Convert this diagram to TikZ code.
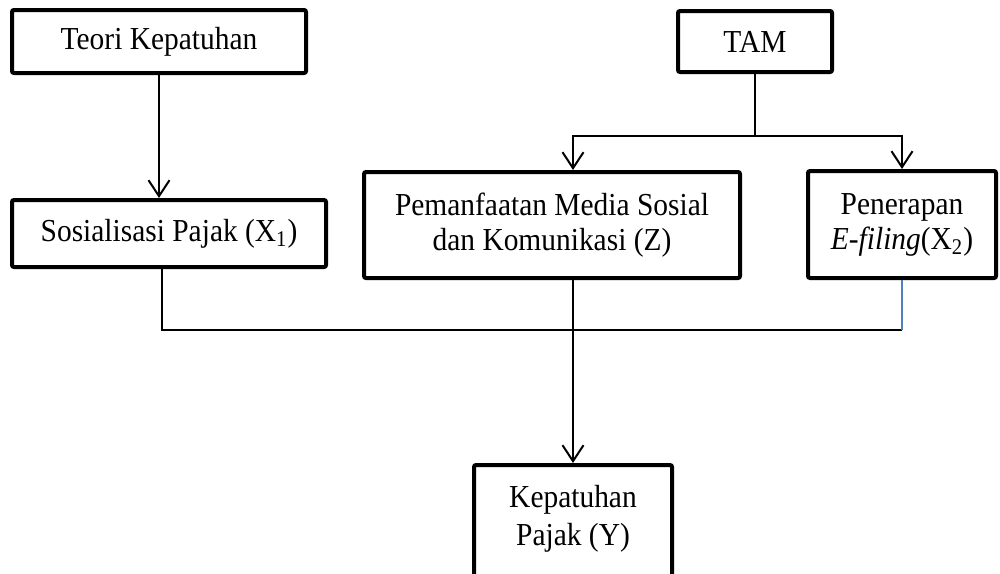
\documentclass[tikz,border=0pt]{standalone}
\usepackage{fontspec}
\setmainfont[FakeStretch=0.92]{Liberation Serif}
\definecolor{linkblue}{HTML}{4F81BD}
\usetikzlibrary{arrows.meta, positioning}

\begin{document}
\begin{tikzpicture}[x=0.5pt, y=-0.5pt,
    box/.style={draw, line width=2pt, rounded corners=1pt, align=center,
      inner sep=0pt, font=\fontsize{16}{17.5}\selectfont},
    link/.style={line width=1pt},
    arr/.style={link, -{Straight Barb[length=8pt, width=10.5pt, line width=1pt]}}]
  \clip (0,0) rectangle (1000,573);

  % upper row
  \node[box, minimum width=147pt, minimum height=31.5pt] (teori) at (159,41.5) {Teori Kepatuhan};
  \node[box, minimum width=77pt, minimum height=30.5pt] (tam) at (755,41.5) {TAM};

  % middle row
  \node[box, minimum width=157pt, minimum height=33.5pt] (sos) at (169,233.5) {Sosialisasi Pajak (X\textsubscript{1})};
  \node[box, minimum width=188pt, minimum height=53pt] (pem) at (552,225) {Pemanfaatan Media Sosial\\dan Komunikasi (Z)};
  \node[box, minimum width=94pt, minimum height=53.5pt] (pen) at (902,224.5) {Penerapan\\\textit{E-filing}(X\textsubscript{2})};

  % bottom box, its lower edge runs off the page
  \node[box, minimum width=99pt, minimum height=75pt, anchor=north] (kep) at (573,463) {};
  \node[font=\fontsize{16}{19}\selectfont, align=center, inner sep=0pt, below=11pt of kep.north] (keptext) {Kepatuhan\\Pajak (Y)};

  % connectors
  \draw[arr] (teori.south) -- (teori.south |- sos.north);
  \draw[link] (tam.south) -- (tam.south |- 0,136) coordinate (split);
  \draw[arr] (split) -| (pen.north);
  \draw[arr] (split) -| ([xshift=10.5pt]pem.north);

  \coordinate (bus) at (pen.south |- 0,330);
  \draw[link] ([xshift=-3.5pt]sos.south) |- (bus);
  \draw[link, draw=linkblue] (pen.south) -- (bus);
  \draw[arr] (pem.south -| kep.north) -- (kep.north);
\end{tikzpicture}
\end{document}
